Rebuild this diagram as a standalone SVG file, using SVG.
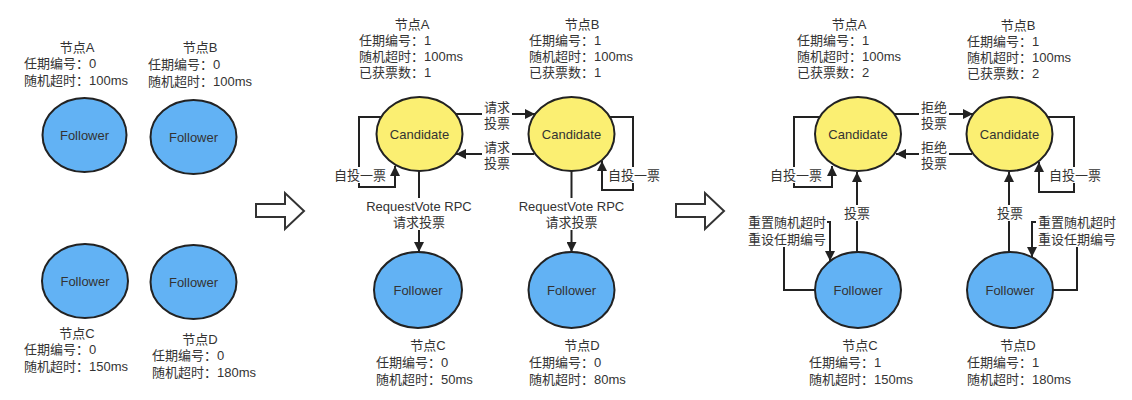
<svg xmlns="http://www.w3.org/2000/svg" width="1132" height="400" viewBox="0 0 1132 400">
<defs>
<style>
text{font-family:"Liberation Sans","Noto Sans CJK SC",sans-serif;font-size:13px;fill:#333}
.m{text-anchor:middle}
.fol{fill:#62b2f4;stroke:#222;stroke-width:2}
.can{fill:#fbef72;stroke:#222;stroke-width:2}
.ln{fill:none;stroke:#222;stroke-width:2}
.bg{fill:#fff}
.big{fill:#fff;stroke:#333;stroke-width:2}
</style>
<marker id="ah" viewBox="0 0 10 10" refX="10" refY="5" markerWidth="10" markerHeight="10" markerUnits="userSpaceOnUse" orient="auto">
<path d="M0,0 L10,5 L0,10 z" fill="#222"/>
</marker>
</defs>
<rect width="1132" height="400" fill="#fff"/>

<!-- Panel 1 -->
<g id="p1-A">
<ellipse class="fol" cx="84.5" cy="135" rx="42" ry="37"/>
<text class="m" x="84.5" y="139.5">Follower</text>
<text class="m" x="77" y="51.5">节点A</text>
<text x="24" y="68">任期编号：0</text>
<text x="24" y="85">随机超时：100ms</text>
</g>
<g id="p1-B">
<ellipse class="fol" cx="193.5" cy="137" rx="43" ry="37"/>
<text class="m" x="193.5" y="141.5">Follower</text>
<text class="m" x="200" y="52">节点B</text>
<text x="148" y="69">任期编号：0</text>
<text x="148" y="86">随机超时：100ms</text>
</g>
<g id="p1-C">
<ellipse class="fol" cx="85" cy="281" rx="43" ry="37"/>
<text class="m" x="85" y="285.5">Follower</text>
<text class="m" x="77" y="338">节点C</text>
<text x="24" y="354">任期编号：0</text>
<text x="24" y="371">随机超时：150ms</text>
</g>
<g id="p1-D">
<ellipse class="fol" cx="193.5" cy="282" rx="43" ry="37"/>
<text class="m" x="193.5" y="286.5">Follower</text>
<text class="m" x="200" y="344">节点D</text>
<text x="152" y="360">任期编号：0</text>
<text x="152" y="377">随机超时：180ms</text>
</g>

<g id="bigarrow1">
<path class="big" d="M256,204 H285 V193 L304,211 L285,229 V217 H256 Z"/>
</g>
<g id="bigarrow2">
<path class="big" d="M676,204 H705 V193 L724,211 L705,229 V217 H676 Z"/>
</g>

<!-- connectors -->
<g id="connectors">
<!-- panel 2 -->
<path class="ln" d="M455,114 H535" marker-end="url(#ah)"/>
<path class="ln" d="M534,154 H456" marker-end="url(#ah)"/>
<path class="ln" d="M381,117 H359 V187 H395 V166" marker-end="url(#ah)"/>
<path class="ln" d="M610,117 H633 V190 H602 V161" marker-end="url(#ah)"/>
<path class="ln" d="M419,171 V252" marker-end="url(#ah)"/>
<path class="ln" d="M571.5,171 V252" marker-end="url(#ah)"/>
<!-- panel 3 -->
<path class="ln" d="M894,114 H973" marker-end="url(#ah)"/>
<path class="ln" d="M972,154 H896" marker-end="url(#ah)"/>
<path class="ln" d="M820,117 H794 V187 H832 V166" marker-end="url(#ah)"/>
<path class="ln" d="M1047,117 H1074 V192 H1039 V162" marker-end="url(#ah)"/>
<path class="ln" d="M857,252 V172" marker-end="url(#ah)"/>
<path class="ln" d="M1009,252 V172" marker-end="url(#ah)"/>
<path class="ln" d="M815,290 H784 V222 H830 V261" marker-end="url(#ah)"/>
<path class="ln" d="M1053,290 H1077 V222 H1032 V257" marker-end="url(#ah)"/>

<!-- labels -->
<rect class="bg" x="482" y="99" width="30" height="32"/>
<text class="m" x="497" y="111.5">请求</text>
<text class="m" x="497" y="127.5">投票</text>
<rect class="bg" x="482" y="139" width="30" height="32"/>
<text class="m" x="497" y="151.5">请求</text>
<text class="m" x="497" y="167.5">投票</text>
<rect class="bg" x="333" y="167" width="54" height="16"/>
<text class="m" x="360" y="179.5">自投一票</text>
<rect class="bg" x="607" y="167" width="54" height="16"/>
<text class="m" x="634" y="179.5">自投一票</text>
<rect class="bg" x="366" y="198" width="106" height="32"/>
<text class="m" x="419" y="210.5">RequestVote RPC</text>
<text class="m" x="419" y="226.5">请求投票</text>
<rect class="bg" x="518" y="198" width="106" height="32"/>
<text class="m" x="571.5" y="210.5">RequestVote RPC</text>
<text class="m" x="571.5" y="226.5">请求投票</text>

<rect class="bg" x="919" y="99" width="30" height="32"/>
<text class="m" x="934" y="111.5">拒绝</text>
<text class="m" x="934" y="127.5">投票</text>
<rect class="bg" x="919" y="139" width="30" height="32"/>
<text class="m" x="934" y="151.5">拒绝</text>
<text class="m" x="934" y="167.5">投票</text>
<rect class="bg" x="769" y="167" width="54" height="16"/>
<text class="m" x="796" y="179.5">自投一票</text>
<rect class="bg" x="1048" y="167" width="54" height="16"/>
<text class="m" x="1075" y="179.5">自投一票</text>
<rect class="bg" x="842" y="205" width="30" height="16"/>
<text class="m" x="857" y="217.5">投票</text>
<rect class="bg" x="995" y="205" width="30" height="16"/>
<text class="m" x="1010" y="217.5">投票</text>
<rect class="bg" x="747" y="213" width="80" height="34"/>
<text class="m" x="787" y="226.5">重置随机超时</text>
<text class="m" x="787" y="243.5">重设任期编号</text>
<rect class="bg" x="1036" y="213" width="82" height="34"/>
<text class="m" x="1077" y="226.5">重置随机超时</text>
<text class="m" x="1077" y="243.5">重设任期编号</text>
</g>

<!-- Panel 2 -->
<g id="p2-A">
<ellipse class="can" cx="419.5" cy="134" rx="43" ry="37"/>
<text class="m" x="419.5" y="138.5">Candidate</text>
<text class="m" x="412" y="28.5">节点A</text>
<text x="359" y="44.5">任期编号：1</text>
<text x="359" y="60.5">随机超时：100ms</text>
<text x="359" y="76.5">已获票数：1</text>
</g>
<g id="p2-B">
<ellipse class="can" cx="571.5" cy="134" rx="43" ry="37"/>
<text class="m" x="571.5" y="138.5">Candidate</text>
<text class="m" x="582" y="28.5">节点B</text>
<text x="529" y="44.5">任期编号：1</text>
<text x="529" y="60.5">随机超时：100ms</text>
<text x="529" y="76.5">已获票数：1</text>
</g>
<g id="p2-C">
<ellipse class="fol" cx="418" cy="290" rx="44" ry="38"/>
<text class="m" x="418" y="294.5">Follower</text>
<text class="m" x="428" y="349.5">节点C</text>
<text x="376" y="366.5">任期编号：0</text>
<text x="376" y="383.5">随机超时：50ms</text>
</g>
<g id="p2-D">
<ellipse class="fol" cx="571.5" cy="290" rx="43" ry="38"/>
<text class="m" x="571.5" y="294.5">Follower</text>
<text class="m" x="582" y="349.5">节点D</text>
<text x="529" y="366.5">任期编号：0</text>
<text x="529" y="383.5">随机超时：80ms</text>
</g>

<!-- Panel 3 -->
<g id="p3-A">
<ellipse class="can" cx="858" cy="134" rx="43" ry="37"/>
<text class="m" x="858" y="138.5">Candidate</text>
<text class="m" x="849" y="28.5">节点A</text>
<text x="797" y="44.5">任期编号：1</text>
<text x="797" y="60.5">随机超时：100ms</text>
<text x="797" y="76.5">已获票数：2</text>
</g>
<g id="p3-B">
<ellipse class="can" cx="1009.5" cy="134" rx="43" ry="37"/>
<text class="m" x="1009.5" y="138.5">Candidate</text>
<text class="m" x="1018" y="29.5">节点B</text>
<text x="967" y="45.5">任期编号：1</text>
<text x="967" y="61.5">随机超时：100ms</text>
<text x="967" y="77.5">已获票数：2</text>
</g>
<g id="p3-C">
<ellipse class="fol" cx="858" cy="290" rx="43" ry="38"/>
<text class="m" x="858" y="294.5">Follower</text>
<text class="m" x="860" y="349.5">节点C</text>
<text x="809" y="366.5">任期编号：1</text>
<text x="809" y="383.5">随机超时：150ms</text>
</g>
<g id="p3-D">
<ellipse class="fol" cx="1010" cy="290" rx="43" ry="38"/>
<text class="m" x="1010" y="294.5">Follower</text>
<text class="m" x="1018" y="349.5">节点D</text>
<text x="967" y="366.5">任期编号：1</text>
<text x="967" y="383.5">随机超时：180ms</text>
</g>
</svg>
